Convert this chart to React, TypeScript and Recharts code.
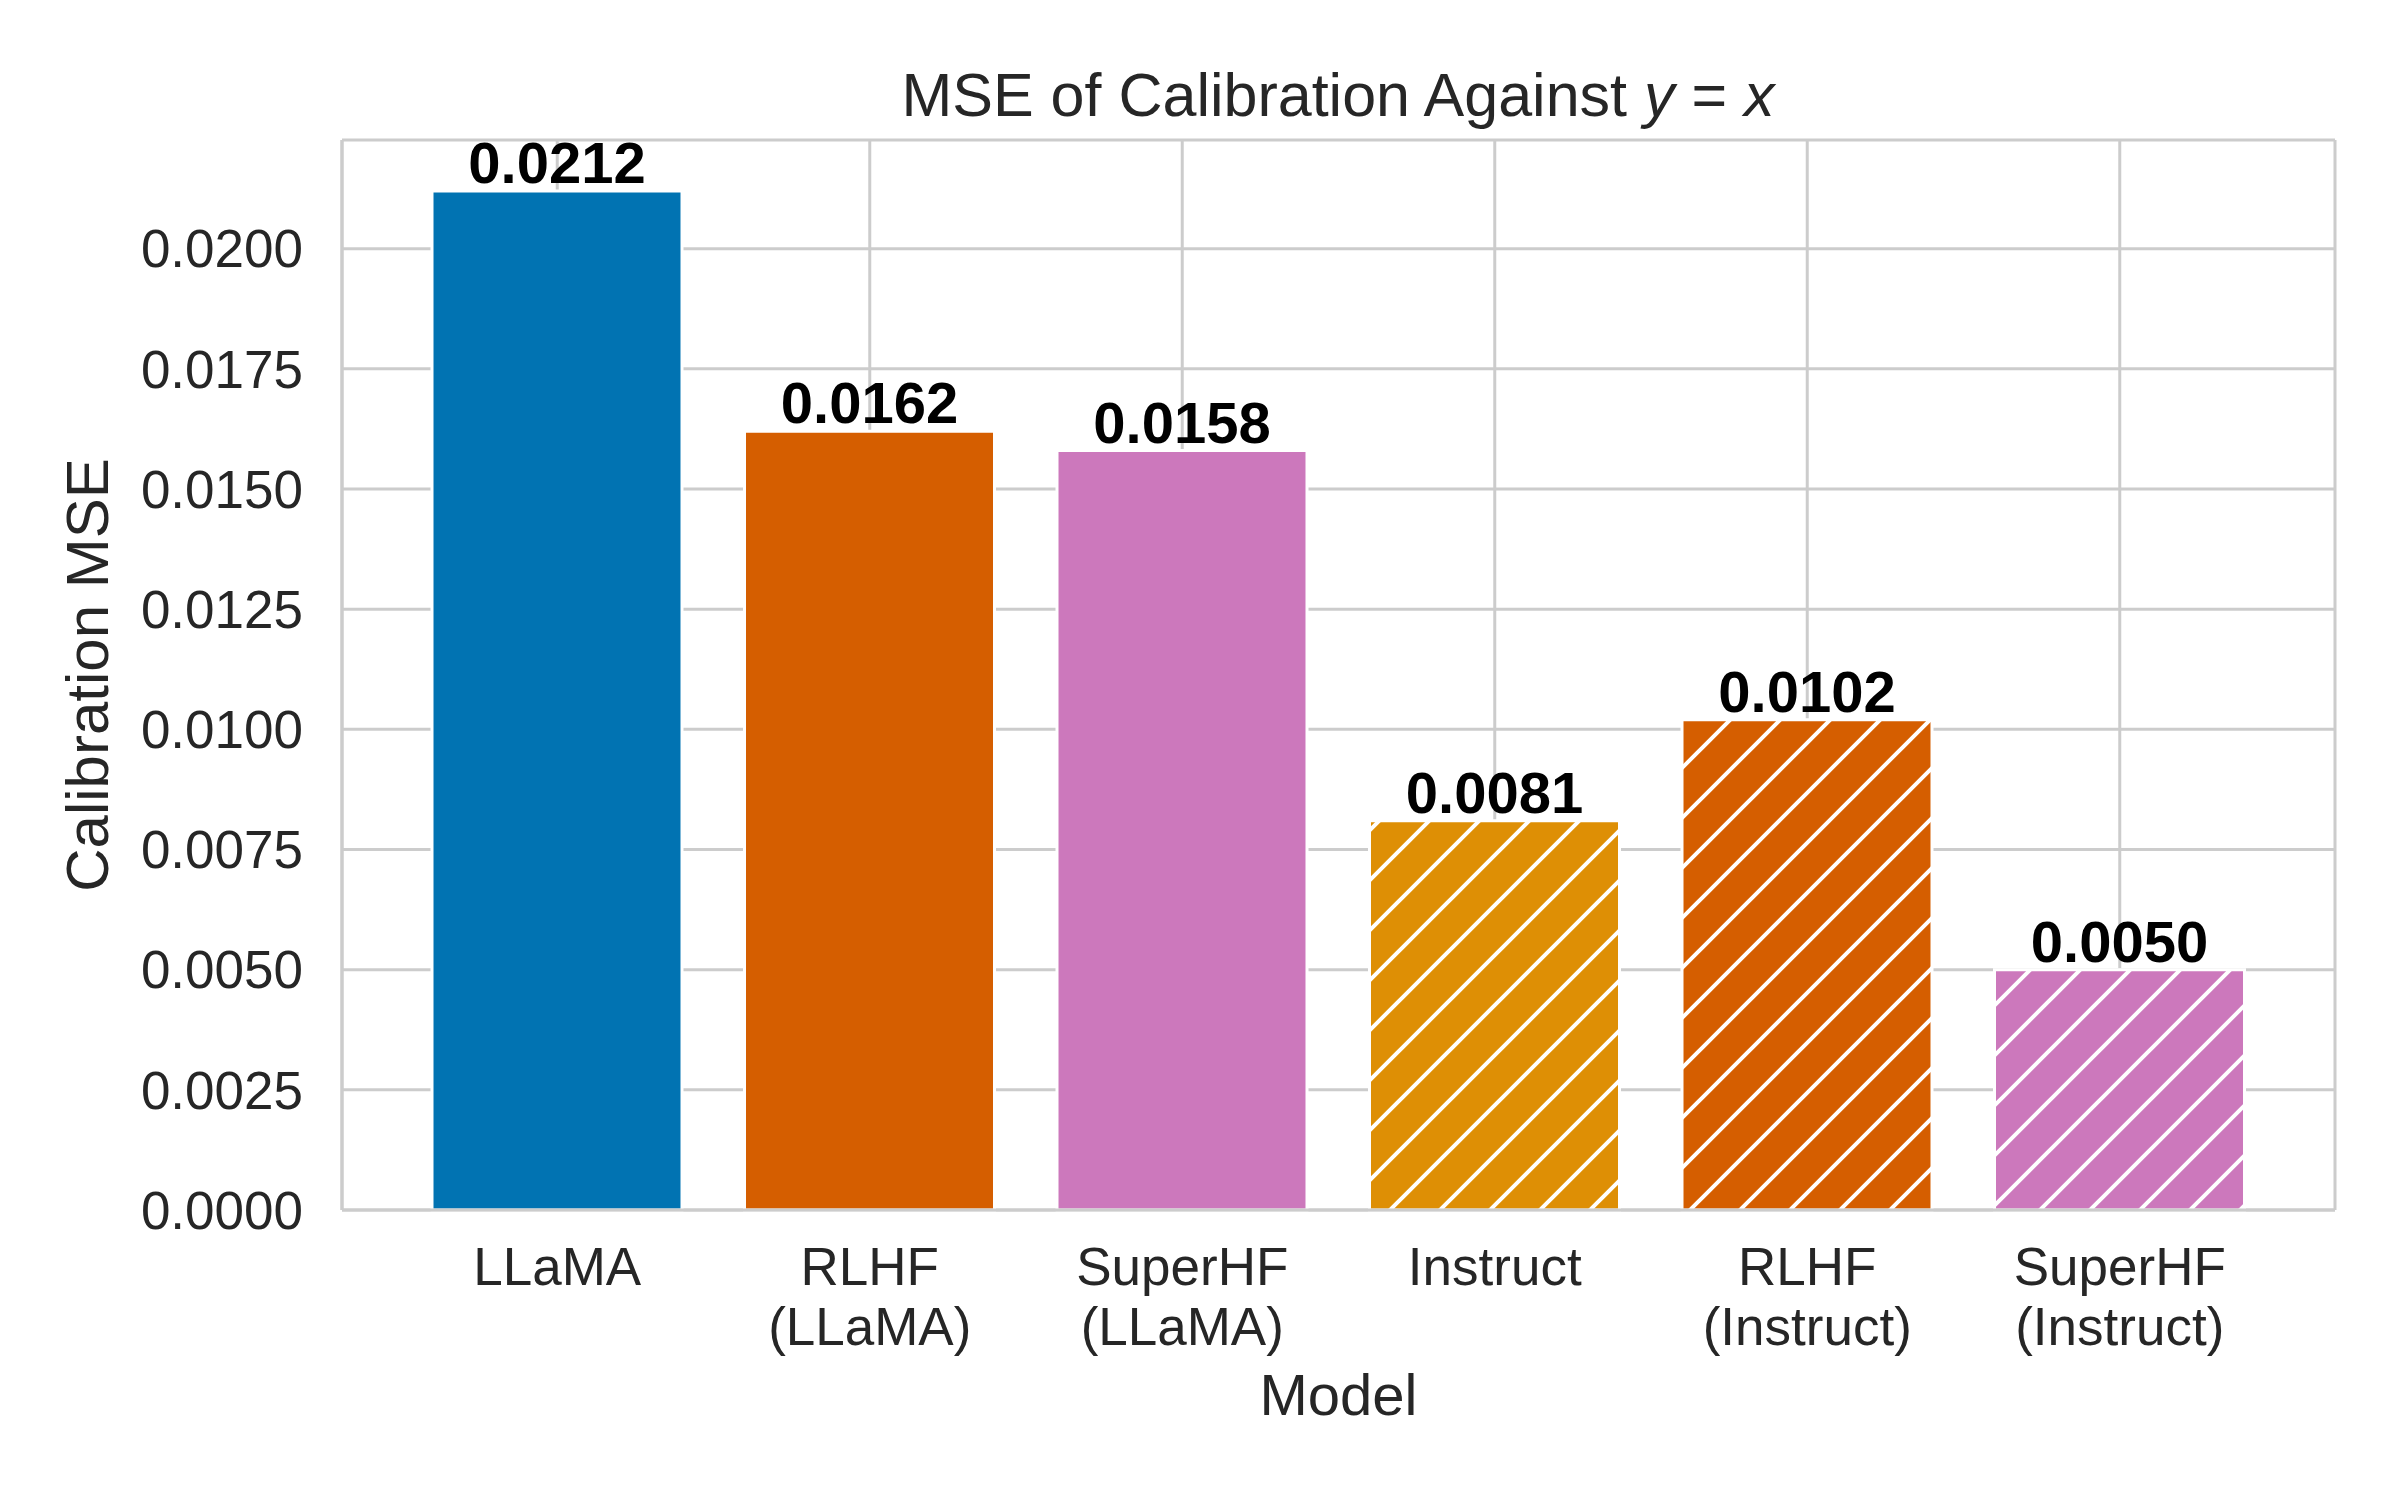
import { Bar, BarChart, CartesianGrid, Cell, LabelList, XAxis, YAxis } from 'recharts'

const models = ['LLaMA', 'RLHF\n(LLaMA)', 'SuperHF\n(LLaMA)', 'Instruct', 'RLHF\n(Instruct)', 'SuperHF\n(Instruct)']
const mseValues = [0.0212, 0.0162, 0.0158, 0.0081, 0.0102, 0.005]
const barColors = ['#0173b2', '#d55e00', '#cc78bc', '#de8f05', '#d55e00', '#cc78bc']
const hatched = [false, false, false, true, true, true]
const yTicks = [0, 0.0025, 0.005, 0.0075, 0.01, 0.0125, 0.015, 0.0175, 0.02]

const data = models.map((model, i) => ({ model, mse: mseValues[i] }))

const FONT = "'Liberation Sans', Arial, sans-serif"
const TEXT = '#262626'
const GRID = '#cccccc'
// hatch tile size: one '/' line every 50px horizontally
const HATCH = 50

const patternId = (c: string) => 'hatch-' + c.slice(1)

function ModelTick({ x, y, payload }: any) {
  const lines = String(payload.value).split('\n')
  return (
    <text x={x} y={y} textAnchor='middle' fill={TEXT} fontSize={53} fontFamily={FONT}>
      {lines.map((line, i) => (
        <tspan key={i} x={x} dy={i === 0 ? 75 : 60}>
          {line}
        </tspan>
      ))}
    </text>
  )
}

export default function App() {
  const hatchColors = Array.from(new Set(barColors.filter((_, i) => hatched[i])))
  const h = HATCH
  return (
    <div style={{ width: 2400, height: 1500, background: '#fff' }}>
      <style>{'body{margin:0}'}</style>
      <BarChart
        width={2400}
        height={1500}
        data={data}
        margin={{ top: 140, right: 65, bottom: 0, left: 0 }}
        style={{ fontFamily: FONT }}
      >
        <defs>
          {hatchColors.map((c) => (
            <pattern key={c} id={patternId(c)} patternUnits='userSpaceOnUse' width={h} height={h}>
              <rect width={h} height={h} fill={c} />
              <path
                d={`M0,${h} L${h},0 M-8,8 L8,-8 M${h - 8},${h + 8} L${h + 8},${h - 8}`}
                stroke='#fff'
                strokeWidth={4}
              />
            </pattern>
          ))}
        </defs>
        <text x={1338} y={116} textAnchor='middle' fill={TEXT} fontSize={61} fontFamily={FONT}>
          MSE of Calibration Against <tspan fontStyle='italic'>y</tspan> = <tspan fontStyle='italic'>x</tspan>
        </text>
        <CartesianGrid stroke={GRID} strokeWidth={3} />
        <XAxis
          dataKey='model'
          height={290}
          interval={0}
          padding={{ left: 59, right: 59 }}
          tickLine={false}
          tickSize={0}
          tickMargin={0}
          axisLine={{ stroke: GRID, strokeWidth: 3 }}
          tick={<ModelTick />}
          label={{ value: 'Model', position: 'insideTop', offset: 164, fill: TEXT, fontSize: 58, fontFamily: FONT }}
        />
        <XAxis
          xAxisId='top'
          dataKey='model'
          orientation='top'
          height={0}
          tick={false}
          tickLine={false}
          axisLine={{ stroke: GRID, strokeWidth: 3 }}
        />
        <YAxis
          type='number'
          domain={[0, 0.02226]}
          ticks={yTicks}
          interval={0}
          width={342}
          tickLine={false}
          tickSize={0}
          tickMargin={39}
          tickFormatter={(v: number) => v.toFixed(4)}
          axisLine={{ stroke: GRID, strokeWidth: 3 }}
          tick={{ fill: TEXT, fontSize: 53, fontFamily: FONT }}
          label={{
            value: 'Calibration MSE',
            angle: -90,
            position: 'insideLeft',
            offset: 87,
            fill: TEXT,
            fontSize: 60,
            fontFamily: FONT,
            style: { textAnchor: 'middle' },
          }}
        />
        <YAxis
          yAxisId='right'
          orientation='right'
          width={0}
          domain={[0, 1]}
          tick={false}
          tickLine={false}
          axisLine={{ stroke: GRID, strokeWidth: 3 }}
        />
        <Bar dataKey='mse' barSize={250} stroke='#fff' strokeWidth={3} isAnimationActive={false}>
          {data.map((d, i) => (
            <Cell key={d.model} fill={hatched[i] ? `url(#${patternId(barColors[i])})` : barColors[i]} />
          ))}
          <LabelList
            dataKey='mse'
            position='top'
            offset={8}
            formatter={(v: any) => Number(v).toFixed(4)}
            fill='#000'
            fontSize={58}
            fontWeight='bold'
            fontFamily={FONT}
          />
        </Bar>
      </BarChart>
    </div>
  )
}
